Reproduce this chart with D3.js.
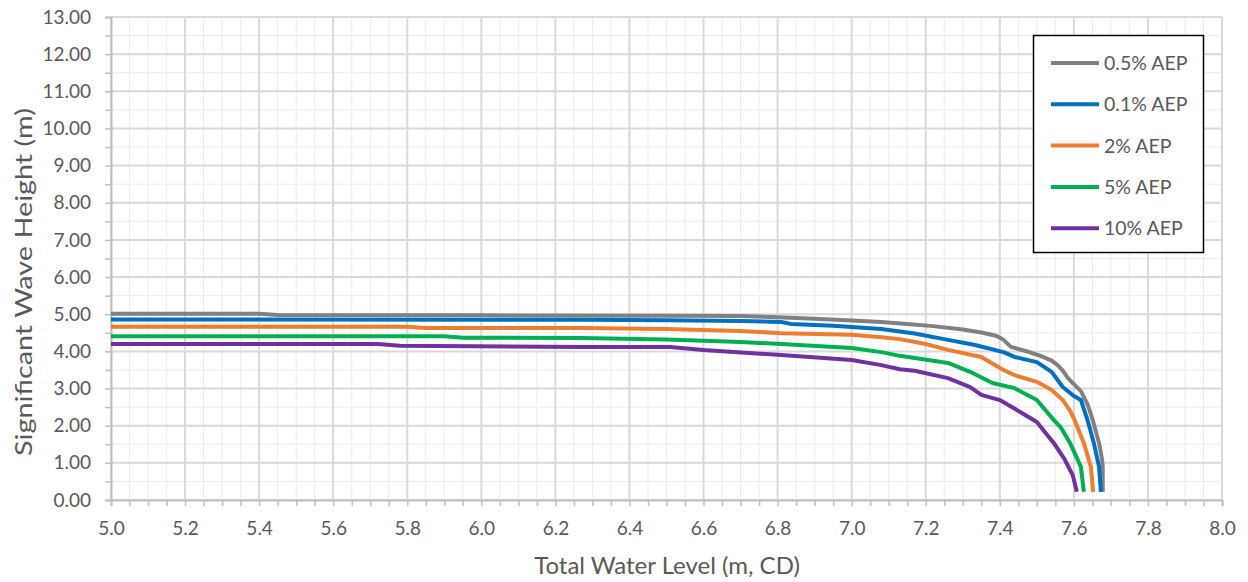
<!DOCTYPE html>
<html>
<head>
<meta charset="utf-8">
<script src="https://cdn.jsdelivr.net/npm/d3@7"></script>
<style>
  html, body { margin: 0; padding: 0; background: #fff; }
  svg { display: block; font-family: Lato, "Open Sans", sans-serif; }
</style>
</head>
<body>
<svg id="chart" width="1248" height="582"></svg>
<script>
// Significant wave height vs total water level, per annual exceedance probability
const seriesNames = ["0.5% AEP", "0.1% AEP", "2% AEP", "5% AEP", "10% AEP"];
const seriesColors = ["#808080", "#0070C0", "#ED7D31", "#00B050", "#7030A0"];

const level05 = [5.00, 5.40, 5.45, 6.00, 6.50, 6.70, 6.80, 6.90, 7.00, 7.08, 7.15, 7.22, 7.30, 7.35, 7.39, 7.41, 7.43, 7.47, 7.51, 7.54, 7.556, 7.57, 7.584, 7.60, 7.619, 7.638, 7.651, 7.668, 7.676, 7.678, 7.678];
const height05 = [5.01, 5.01, 4.98, 4.97, 4.96, 4.95, 4.92, 4.88, 4.83, 4.79, 4.74, 4.68, 4.59, 4.51, 4.42, 4.31, 4.12, 4.01, 3.88, 3.75, 3.63, 3.48, 3.28, 3.12, 2.93, 2.55, 2.15, 1.53, 1.10, 0.89, 0.22];

const level01 = [5.00, 6.27, 6.50, 6.70, 6.81, 6.835, 6.95, 7.08, 7.17, 7.26, 7.33, 7.41, 7.44, 7.50, 7.54, 7.57, 7.60, 7.619, 7.637, 7.654, 7.668, 7.673];
const height01 = [4.86, 4.85, 4.84, 4.82, 4.79, 4.74, 4.69, 4.60, 4.48, 4.31, 4.18, 3.98, 3.85, 3.71, 3.45, 3.04, 2.80, 2.69, 2.15, 1.53, 0.89, 0.22];

const level2 = [5.00, 5.80, 5.85, 6.27, 6.50, 6.70, 6.81, 7.00, 7.08, 7.13, 7.20, 7.26, 7.35, 7.41, 7.44, 7.50, 7.54, 7.57, 7.59, 7.60, 7.627, 7.646, 7.652];
const height2 = [4.66, 4.66, 4.63, 4.63, 4.60, 4.55, 4.49, 4.45, 4.38, 4.33, 4.20, 4.04, 3.85, 3.50, 3.36, 3.18, 2.96, 2.69, 2.40, 2.20, 1.53, 0.89, 0.22];

const level5 = [5.00, 5.90, 5.95, 6.27, 6.50, 6.70, 6.81, 7.00, 7.08, 7.13, 7.17, 7.26, 7.32, 7.38, 7.44, 7.50, 7.546, 7.565, 7.59, 7.619, 7.627];
const height5 = [4.41, 4.41, 4.37, 4.36, 4.32, 4.25, 4.20, 4.09, 3.98, 3.88, 3.82, 3.69, 3.45, 3.15, 3.01, 2.69, 2.15, 1.95, 1.53, 0.89, 0.22];

const level10 = [5.00, 5.72, 5.78, 6.27, 6.51, 6.60, 6.81, 7.00, 7.08, 7.13, 7.17, 7.26, 7.32, 7.35, 7.40, 7.455, 7.50, 7.52, 7.546, 7.573, 7.597, 7.608];
const height10 = [4.20, 4.20, 4.15, 4.12, 4.12, 4.04, 3.90, 3.77, 3.63, 3.52, 3.48, 3.28, 3.04, 2.83, 2.69, 2.37, 2.10, 1.85, 1.53, 1.13, 0.67, 0.22];

const xTicks = [5.0, 5.2, 5.4, 5.6, 5.8, 6.0, 6.2, 6.4, 6.6, 6.8, 7.0, 7.2, 7.4, 7.6, 7.8, 8.0];
const yTicks = [0, 1, 2, 3, 4, 5, 6, 7, 8, 9, 10, 11, 12, 13];

const levels = [level05, level01, level2, level5, level10];
const heights = [height05, height01, height2, height5, height10];

const svg = d3.select("#chart");
const plotLeft = 111, plotRight = 1222, plotTop = 17, plotBottom = 500;
const textGrey = "#595959";

const x = d3.scaleLinear().domain([5, 8]).range([plotLeft, plotRight]);
const y = d3.scaleLinear().domain([0, 13]).range([plotBottom, plotTop]);

// minor grid
const minorX = d3.range(5, 8.0001, 0.05);
const minorY = d3.range(0, 13.0001, 0.5);
const grid = svg.append("g");
grid.selectAll(".mx").data(minorX).join("line")
  .attr("x1", d => x(d)).attr("x2", d => x(d))
  .attr("y1", plotTop).attr("y2", plotBottom)
  .attr("stroke", "#ececec").attr("stroke-width", 1);
grid.selectAll(".my").data(minorY).join("line")
  .attr("x1", plotLeft).attr("x2", plotRight)
  .attr("y1", d => y(d)).attr("y2", d => y(d))
  .attr("stroke", "#ececec").attr("stroke-width", 1);
// major grid
grid.selectAll(".gx").data(xTicks).join("line")
  .attr("x1", d => x(d)).attr("x2", d => x(d))
  .attr("y1", plotTop).attr("y2", plotBottom)
  .attr("stroke", "#d9d9d9").attr("stroke-width", 2);
grid.selectAll(".gy").data(yTicks).join("line")
  .attr("x1", plotLeft).attr("x2", plotRight)
  .attr("y1", d => y(d)).attr("y2", d => y(d))
  .attr("stroke", "#d9d9d9").attr("stroke-width", 2);

// axes: tick marks at every minor step, labels at major steps
const xAxis = svg.append("g").attr("transform", `translate(0,${plotBottom})`)
  .call(d3.axisBottom(x).tickValues(minorX).tickSize(6).tickFormat(""));
xAxis.select(".domain").attr("stroke", "#bfbfbf").attr("stroke-width", 2);
xAxis.selectAll(".tick line").attr("stroke", "#bfbfbf").attr("stroke-width", 1.5);

svg.append("g").attr("transform", `translate(0,${plotBottom})`)
  .call(d3.axisBottom(x).tickValues(xTicks).tickSize(0).tickPadding(21.5).tickFormat(d3.format(".1f")))
  .call(g => g.select(".domain").remove())
  .selectAll("text").attr("fill", textGrey).attr("font-size", 19)
  .attr("font-family", "Lato, sans-serif");

const yAxis = svg.append("g").attr("transform", `translate(${plotLeft},0)`)
  .call(d3.axisLeft(y).tickValues(minorY).tickSize(6).tickFormat(""));
yAxis.select(".domain").attr("stroke", "#bfbfbf").attr("stroke-width", 2);
yAxis.selectAll(".tick line").attr("stroke", "#bfbfbf").attr("stroke-width", 1.5);

svg.append("g").attr("transform", `translate(${plotLeft},0)`)
  .call(d3.axisLeft(y).tickValues(yTicks).tickSize(0).tickPadding(20).tickFormat(d3.format(".2f")))
  .call(g => g.select(".domain").remove())
  .selectAll("text").attr("fill", textGrey).attr("font-size", 19)
  .attr("font-family", "Lato, sans-serif");

// series lines
const line = d3.line().x(d => x(d[0])).y(d => y(d[1]));
seriesNames.forEach((name, i) => {
  const pts = levels[i].map((v, j) => [v, heights[i][j]]);
  svg.append("path").datum(pts)
    .attr("d", line)
    .attr("fill", "none")
    .attr("stroke", seriesColors[i])
    .attr("stroke-width", 4)
    .attr("stroke-linejoin", "round")
    .attr("stroke-linecap", "butt");
});

// axis titles
svg.append("text")
  .attr("x", 667).attr("y", 574)
  .attr("text-anchor", "middle").attr("fill", textGrey)
  .attr("font-size", 24)
  .text("Total Water Level (m, CD)");
svg.append("text")
  .attr("transform", "translate(32,282) rotate(-90) scale(1.2,1)")
  .attr("text-anchor", "middle").attr("fill", textGrey)
  .attr("font-size", 24)
  .text("Significant Wave Height (m)");

// legend
const legend = svg.append("g");
legend.append("rect")
  .attr("x", 1033.5).attr("y", 35.5).attr("width", 170).attr("height", 217)
  .attr("fill", "#fff").attr("stroke", "#000").attr("stroke-width", 1.5);
seriesNames.forEach((name, i) => {
  const ly = 63 + i * 41.3;
  legend.append("line")
    .attr("x1", 1051).attr("x2", 1099).attr("y1", ly).attr("y2", ly)
    .attr("stroke", seriesColors[i]).attr("stroke-width", 4);
  legend.append("text")
    .attr("x", 1104).attr("y", ly).attr("dy", "0.36em")
    .attr("fill", textGrey).attr("font-size", 19.5)
    .text(name);
});
</script>
</body>
</html>
